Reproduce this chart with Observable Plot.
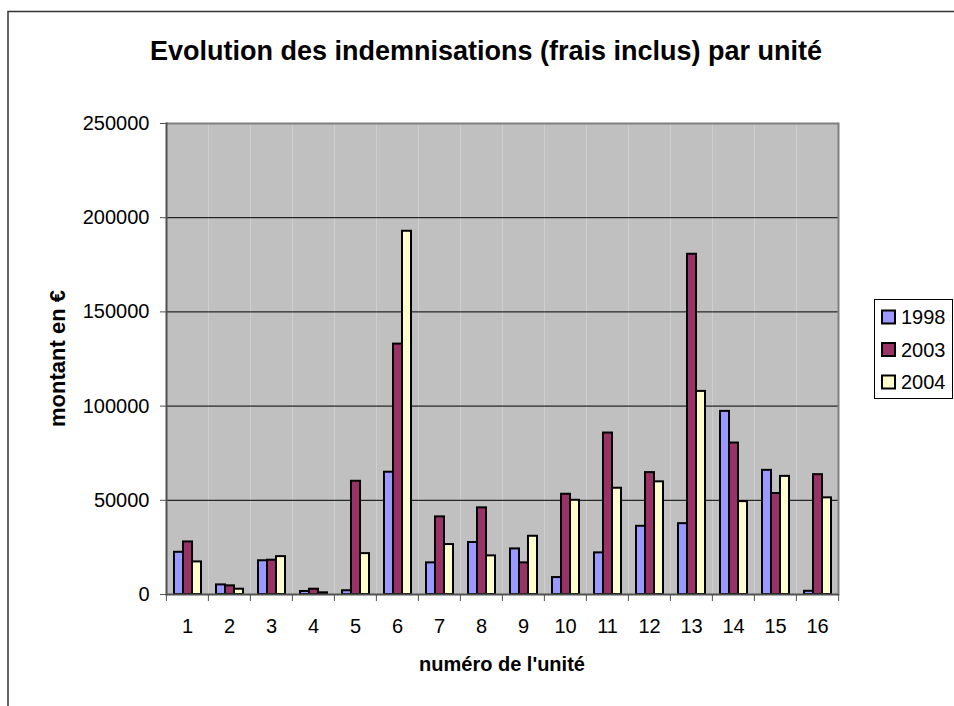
<!DOCTYPE html>
<html><head><meta charset="utf-8">
<script src="https://cdn.jsdelivr.net/npm/d3@7"></script>
<script src="https://cdn.jsdelivr.net/npm/@observablehq/plot@0.6"></script>
<style>
body{margin:0;background:#fff;}
#wrap{position:relative;width:954px;height:706px;overflow:hidden;font-family:"Liberation Sans",Arial,sans-serif;}
#chart{position:absolute;left:0;top:0;}
#over{position:absolute;left:0;top:0;pointer-events:none;}
</style></head><body>
<div id="wrap"><div id="chart"></div><svg id="over" width="954" height="706"></svg></div>
<script>
const units = [1,2,3,4,5,6,7,8,9,10,11,12,13,14,15,16];
const years = ["1998","2003","2004"];
const v1998 = [22400, 5100, 17900, 1600, 2000, 64900, 16800, 27600, 24200, 9000, 22100, 36200, 37600, 97200, 65900, 1700];
const v2003 = [27900, 4600, 18200, 2800, 60100, 132900, 41200, 46000, 16800, 53200, 85700, 64700, 180600, 80400, 53600, 63600];
const v2004 = [17300, 2800, 20100, 900, 21700, 192800, 26500, 20500, 30900, 50000, 56400, 59800, 107800, 49300, 62700, 51300];
const colors = ["#9999FF", "#993366", "#FFFFCC"];
const yTicks = [0, 50000, 100000, 150000, 200000, 250000];
const titleText = "Evolution des indemnisations (frais inclus) par unité";
const xLabel = "numéro de l'unité";
const yLabel = "montant en €";

const series = [v1998, v2003, v2004];
const data = [];
units.forEach((u, i) => years.forEach((y, k) => data.push({unit: u, year: y, value: series[k][i]})));

const W = 954, H = 706, ml = 164, mr = 114, mt = 123, mb = 112;
const bw = (W - ml - mr) / units.length;
const axisColor = "#505050";

const chart = Plot.plot({
  width: W, height: H,
  marginLeft: ml, marginRight: mr, marginTop: mt, marginBottom: mb,
  style: {fontFamily: '"Liberation Sans", Arial, sans-serif', fontSize: "20px", color: "#000", background: "transparent"},
  fx: {domain: units, padding: 0, label: null},
  x: {domain: years, paddingInner: 0, paddingOuter: 0.685, axis: null},
  y: {domain: [0, 250000], label: null},
  color: {domain: years, range: colors},
  marks: [
    Plot.frame({fill: "#c0c0c0", stroke: "none"}),
    Plot.gridY({ticks: yTicks, stroke: "#000", strokeOpacity: 1, strokeWidth: 1}),
    Plot.ruleY([250000], {stroke: "#808080", strokeWidth: 2}),
    Plot.frame({anchor: "right", facetAnchor: "right", stroke: "#808080", strokeWidth: 2}),
    Plot.barY(data, {fx: "unit", x: "year", y: "value", fill: "year", stroke: "#000", strokeWidth: 2}),
    Plot.ruleY([0], {stroke: axisColor, strokeWidth: 2}),
    Plot.frame({anchor: "left", facetAnchor: "left", stroke: axisColor, strokeWidth: 2}),
    Plot.axisY({ticks: yTicks, tickSize: 6, tickPadding: 11, tickFormat: d3.format("d"), fontSize: 20, label: null, stroke: axisColor}),
    Plot.axisFx({anchor: "bottom", tickSize: 0, tickPadding: 24, fontSize: 20, label: null}),
    Plot.axisFx({anchor: "bottom", tickSize: 7, tickFormat: () => "", dx: -bw / 2, label: null, stroke: axisColor}),
    Plot.axisFx({anchor: "bottom", ticks: [units[units.length - 1]], tickSize: 7, tickFormat: () => "", dx: bw / 2, label: null, stroke: axisColor})
  ]
});
document.getElementById("chart").appendChild(chart);

// overlay: border, title, axis titles, legend
const over = d3.select("#over");
over.append("path").attr("d", "M8,706V11.5H954").attr("fill", "none").attr("stroke", "#333").attr("stroke-width", 1.5);
const ff = '"Liberation Sans", Arial, sans-serif';
over.append("text").attr("x", 486).attr("y", 60).attr("text-anchor", "middle")
  .attr("font-family", ff).attr("font-weight", "bold").attr("font-size", 27).text(titleText);
over.append("text").attr("x", ml + (W - ml - mr) / 2).attr("y", 671).attr("text-anchor", "middle")
  .attr("font-family", ff).attr("font-weight", "bold").attr("font-size", 20).text(xLabel);
over.append("text").attr("transform", `translate(65,${mt + (H - mt - mb) / 2}) rotate(-90)`).attr("text-anchor", "middle")
  .attr("font-family", ff).attr("font-weight", "bold").attr("font-size", 22).text(yLabel);
const lg = over.append("g");
lg.append("rect").attr("x", 874.5).attr("y", 299.5).attr("width", 78).attr("height", 99).attr("fill", "#fff").attr("stroke", "#000").attr("stroke-width", 1);
years.forEach((y, k) => {
  const cy = 317 + k * 32.5;
  lg.append("rect").attr("x", 882).attr("y", cy - 6.5).attr("width", 13).attr("height", 13)
    .attr("fill", colors[k]).attr("stroke", "#000").attr("stroke-width", 2);
  lg.append("text").attr("x", 901).attr("y", cy + 7.2).attr("font-family", ff).attr("font-size", 20).text(y);
});
</script>
</body></html>
